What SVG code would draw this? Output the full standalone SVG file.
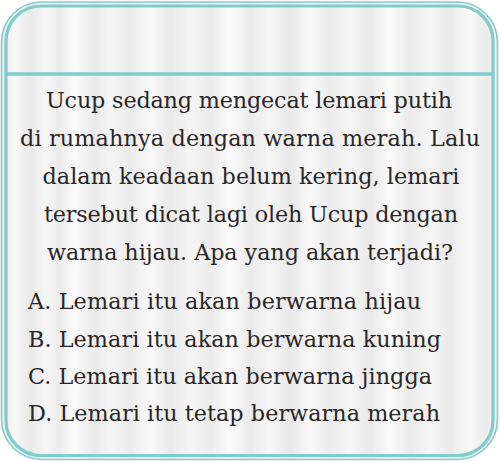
<svg xmlns="http://www.w3.org/2000/svg" width="500" height="461" viewBox="0 0 500 461">
<defs>
<linearGradient id="curtain" x1="0" y1="0" x2="500" y2="0" gradientUnits="userSpaceOnUse">
<stop offset="0" stop-color="#eaeaea"/>
<stop offset="0.03" stop-color="#f8f8f8"/>
<stop offset="0.06" stop-color="#e8e8e8"/>
<stop offset="0.09" stop-color="#f6f6f6"/>
<stop offset="0.12" stop-color="#ececec"/>
<stop offset="0.15" stop-color="#fbfbfb"/>
<stop offset="0.19" stop-color="#e9e9e9"/>
<stop offset="0.22" stop-color="#f5f5f5"/>
<stop offset="0.26" stop-color="#ebebeb"/>
<stop offset="0.30" stop-color="#f9f9f9"/>
<stop offset="0.34" stop-color="#e9e9e9"/>
<stop offset="0.38" stop-color="#f5f5f5"/>
<stop offset="0.42" stop-color="#ececec"/>
<stop offset="0.46" stop-color="#fbfbfb"/>
<stop offset="0.50" stop-color="#eaeaea"/>
<stop offset="0.54" stop-color="#f6f6f6"/>
<stop offset="0.58" stop-color="#e8e8e8"/>
<stop offset="0.62" stop-color="#f8f8f8"/>
<stop offset="0.66" stop-color="#ececec"/>
<stop offset="0.70" stop-color="#f6f6f6"/>
<stop offset="0.74" stop-color="#e9e9e9"/>
<stop offset="0.78" stop-color="#fafafa"/>
<stop offset="0.82" stop-color="#ebebeb"/>
<stop offset="0.86" stop-color="#f6f6f6"/>
<stop offset="0.90" stop-color="#eaeaea"/>
<stop offset="0.94" stop-color="#f9f9f9"/>
<stop offset="0.97" stop-color="#ececec"/>
<stop offset="1" stop-color="#f4f4f4"/>
</linearGradient>
</defs>
<style>
.frame{fill:none;stroke:#80cccc}
.bg{fill:url(#curtain);stroke:none}
.t{font-family:"DejaVu Serif","Liberation Serif",serif;font-size:22.3px;fill:#2b2727}
.c{text-anchor:middle}
</style>
<rect width="500" height="461" fill="#ffffff"/>
<g id="card">
<rect x="1.5" y="2" width="496" height="457.5" rx="40" ry="40" class="bg"/>
<rect x="1.5" y="2" width="496" height="457.5" rx="40" ry="40" class="frame" stroke-width="1.6"/>
<rect x="6" y="6" width="487" height="449.5" rx="35" ry="35" class="frame" stroke-width="3.2"/>
<line x1="7" y1="74" x2="492" y2="74" class="frame" stroke-width="3.5"/>
</g>
<g id="question">
<text class="t c" x="249" y="108" textLength="406" lengthAdjust="spacing">Ucup sedang mengecat lemari putih</text>
<text class="t c" x="250" y="146" textLength="460" lengthAdjust="spacing">di rumahnya dengan warna merah. Lalu</text>
<text class="t c" x="251" y="184" textLength="417" lengthAdjust="spacing">dalam keadaan belum kering, lemari</text>
<text class="t c" x="251" y="222" textLength="414" lengthAdjust="spacing">tersebut dicat lagi oleh Ucup dengan</text>
<text class="t c" x="250" y="260" textLength="406" lengthAdjust="spacing">warna hijau. Apa yang akan terjadi?</text>
</g>
<g id="options">
<text class="t" x="28" y="309" textLength="393" lengthAdjust="spacing">A. Lemari itu akan berwarna hijau</text>
<text class="t" x="28" y="347" textLength="413" lengthAdjust="spacing">B. Lemari itu akan berwarna kuning</text>
<text class="t" x="28" y="384" textLength="404" lengthAdjust="spacing">C. Lemari itu akan berwarna jingga</text>
<text class="t" x="28" y="421" textLength="412" lengthAdjust="spacing">D. Lemari itu tetap berwarna merah</text>
</g>
</svg>
